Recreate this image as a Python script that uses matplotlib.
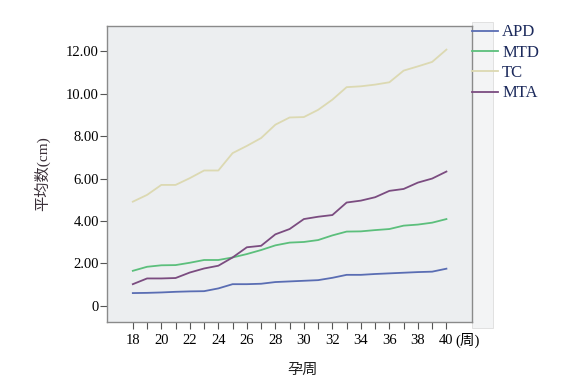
import numpy as np
import matplotlib.pyplot as plt
from matplotlib.patches import Rectangle

plt.rcParams['font.family'] = ['Liberation Serif', 'Noto Sans CJK SC']

# gestational week
weeks = list(range(18, 41))

# mean values (cm)
apd = [0.60, 0.61, 0.63, 0.66, 0.68, 0.69, 0.82, 1.02, 1.02, 1.04, 1.12, 1.15,
       1.18, 1.21, 1.32, 1.46, 1.46, 1.50, 1.53, 1.56, 1.59, 1.61, 1.75]
mtd = [1.65, 1.84, 1.91, 1.92, 2.03, 2.16, 2.16, 2.28, 2.44, 2.63, 2.85, 2.98,
       3.01, 3.10, 3.32, 3.50, 3.51, 3.57, 3.62, 3.78, 3.83, 3.92, 4.09]
tc = [4.91, 5.23, 5.70, 5.70, 6.02, 6.38, 6.38, 7.20, 7.54, 7.91, 8.54, 8.88,
      8.90, 9.24, 9.72, 10.31, 10.35, 10.43, 10.54, 11.09, 11.29, 11.50, 12.08]
mta = [1.02, 1.29, 1.29, 1.31, 1.57, 1.76, 1.89, 2.28, 2.76, 2.83, 3.37, 3.62,
       4.09, 4.20, 4.28, 4.87, 4.96, 5.12, 5.42, 5.51, 5.81, 6.00, 6.33]

series = [('APD', apd, '#5a6db3'), ('MTD', mtd, '#5cbf7c'),
          ('TC', tc, '#dcd9b2'), ('MTA', mta, '#7b4c80')]

xtick_vals = list(range(18, 41, 2))
xtick_labels = [str(v) for v in xtick_vals]
ytick_vals = [0, 2, 4, 6, 8, 10, 12]
ytick_labels = ['0'] + ['%.2f' % v for v in ytick_vals[1:]]

fig = plt.figure(figsize=(5.64, 3.86), dpi=100)
ax = fig.add_axes([0.190, 0.166, 0.647, 0.767])
ax.set_facecolor('#eceef0')

# light strip behind the legend handles
fig.patches.append(Rectangle((0.837, 0.150), 0.037, 0.793, transform=fig.transFigure,
                             facecolor='#f3f4f5', edgecolor='#dddddd', lw=0.6, zorder=-1))

for name, vals, col in series:
    ax.plot(weeks, vals, color=col, lw=1.3, label=name)

ax.set_xlim(16.2, 41.8)
ax.set_ylim(-0.76, 13.2)
ax.set_xticks(xtick_vals, labels=xtick_labels)
ax.set_xticks(weeks, minor=True)
ax.set_yticks(ytick_vals, labels=ytick_labels)

ax.tick_params(axis='both', which='both', direction='out', length=5, width=0.8,
               color='#555555', labelsize=10.5)
ax.tick_params(axis='x', which='both', pad=4)
ax.tick_params(axis='y', pad=1)
for sp in ax.spines.values():
    sp.set_color('#8a8a8a')
    sp.set_linewidth(1.0)

# unit after the last tick label
ax.annotate('(周)', xy=(40, 0), xycoords=('data', 'axes fraction'),
            xytext=(6.5, -7.8), textcoords='offset points',
            ha='left', va='top', fontsize=10.5)

ax.set_ylabel('平均数(cm)', fontsize=11, color='#3a2f38', labelpad=11)
ax.set_xlabel('孕周', fontsize=11, color='#222222')
ax.xaxis.set_label_coords(0.535, -0.14)

leg = ax.legend(loc='upper left', bbox_to_anchor=(1.0, 1.005), frameon=False,
                handlelength=1.55, handletextpad=0.25, labelspacing=0.26,
                borderaxespad=0, borderpad=0, fontsize=12)
for t in leg.get_texts():
    t.set_color('#1c2a5c')

fig.savefig('out.png', dpi=100)
